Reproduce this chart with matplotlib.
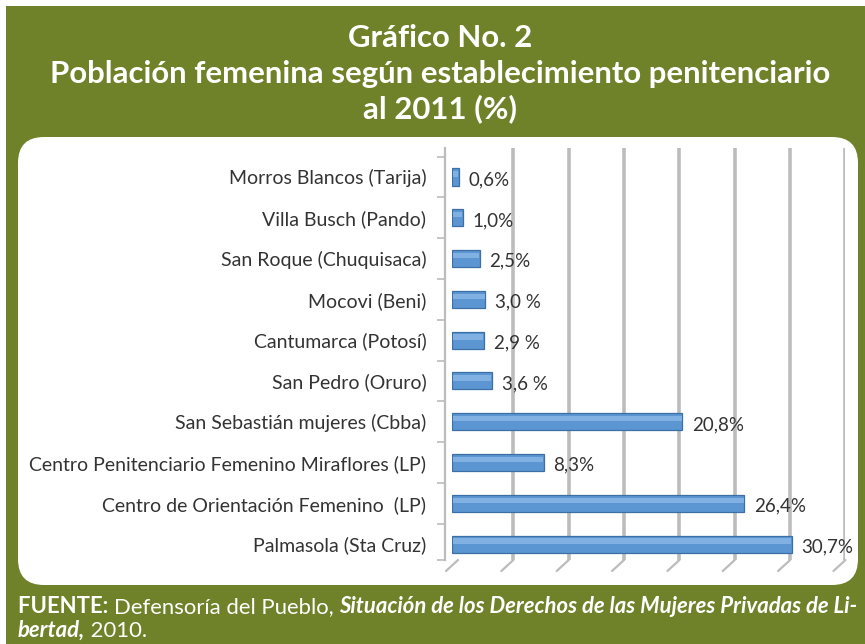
import matplotlib.pyplot as plt
import matplotlib.transforms as mtransforms
from matplotlib.patches import FancyBboxPatch, Rectangle

establecimientos = [
    "Morros Blancos (Tarija)",
    "Villa Busch (Pando)",
    "San Roque (Chuquisaca)",
    "Mocovi (Beni)",
    "Cantumarca (Potosí)",
    "San Pedro (Oruro)",
    "San Sebastián mujeres (Cbba)",
    "Centro Penitenciario Femenino Miraflores (LP)",
    "Centro de Orientación Femenino  (LP)",
    "Palmasola (Sta Cruz)",
]
porcentaje = [0.6, 1.0, 2.5, 3.0, 2.9, 3.6, 20.8, 8.3, 26.4, 30.7]
etiquetas = ["0,6%", "1,0%", "2,5%", "3,0 %", "2,9 %", "3,6 %",
             "20,8%", "8,3%", "26,4%", "30,7%"]
grid_ticks = [0, 5, 10, 15, 20, 25, 30, 35]

verde = "#6f8229"
W, H = 865, 644
fig = plt.figure(figsize=(W / 100, H / 100), dpi=100)
fig.patch.set_facecolor("white")

# green frame and white rounded panel
fig.patches.append(Rectangle((6 / W, 0), 1, 1 - 6 / H, transform=fig.transFigure,
                             facecolor=verde, edgecolor="none", zorder=0))
fig.patches.append(FancyBboxPatch((18 / W, 1 - 585 / H), 840 / W, 448 / H,
                                  boxstyle="round,pad=0,rounding_size=0.03",
                                  transform=fig.transFigure, facecolor="white",
                                  edgecolor="none", zorder=1,
                                  mutation_aspect=W / H))

tfont = dict(family="Lato", weight="bold", color="white", ha="center", va="center")
fig.text(440 / W, 1 - 38 / H, "Gráfico No. 2", fontsize=22.4, **tfont)
fig.text(440 / W, 1 - 74 / H, "Población femenina según establecimiento penitenciario",
         fontsize=22.4, **tfont)
fig.text(440 / W, 1 - 109 / H, "al 2011 (%)", fontsize=22.4, **tfont)

ax = fig.add_axes([452 / W, 1 - 560 / H, 393 / W, 412 / H])
ax.set_zorder(5)
ax.set_facecolor("none")
ax.set_xlim(0, 35.5)
ax.set_ylim(9.39, -0.71)
ypos = list(range(len(porcentaje)))

# back wall gridlines, shifted to mimic depth
shift = mtransforms.ScaledTranslation(6 / 100, 0, fig.dpi_scale_trans)
for t in grid_ticks[1:]:
    ax.plot([t, t], [9.39, -0.71], color="#bcbcbc", lw=2.6,
            transform=ax.transData + shift, solid_capstyle="butt", zorder=1)
# floor diagonals
p0 = mtransforms.ScaledTranslation(6 / 100, 0, fig.dpi_scale_trans)
p1 = mtransforms.ScaledTranslation(-6 / 100, -11 / 100, fig.dpi_scale_trans)
for t in grid_ticks:
    ax.annotate("", xy=(t, 9.39), xytext=(t, 9.39), xycoords=ax.transData + p1,
                textcoords=ax.transData + p0,
                arrowprops=dict(arrowstyle="-", color="#bcbcbc", lw=1.6,
                                shrinkA=0, shrinkB=0), annotation_clip=False)

# bars: base, darker lower edge, light top highlight
ax.barh(ypos, porcentaje, height=0.42, color="#5b96d2", edgecolor="#3b6fa6",
        linewidth=0.9, zorder=3)
hl = mtransforms.ScaledTranslation(0, 3 / 100, fig.dpi_scale_trans)
ax.barh(ypos, [v - 0.12 for v in porcentaje], left=0.06, height=0.13,
        color="#80b1e2", edgecolor="none", zorder=4, transform=ax.transData + hl)
for y, v, lab in zip(ypos, porcentaje, etiquetas):
    ax.annotate(lab, (v, y), xytext=(7, -2), textcoords="offset points",
                ha="left", va="center", fontsize=13.5, family="Lato",
                color="#333333", zorder=5)

ax.set_yticks(ypos, labels=establecimientos)
ax.set_yticks([i - 0.5 for i in ypos] + [9.39], minor=True)
ax.tick_params(axis="y", which="major", length=0, pad=13.5, labelsize=14,
               labelcolor="#333333", labelfontfamily="Lato")
ax.tick_params(axis="y", which="minor", length=6, color="#bcbcbc", width=1.2)
ax.set_xticks([])
for s in ["top", "right", "bottom"]:
    ax.spines[s].set_visible(False)
ax.spines["left"].set_color("#bcbcbc")
ax.spines["left"].set_linewidth(1.6)
ax.spines["left"].set_position(("outward", 5))

# footer with mixed styles
renderer = fig.canvas.get_renderer()
def footer(parts, x, y):
    for txt, kw in parts:
        t = fig.text(x / W, 1 - y / H, txt, color="white", fontsize=15.9,
                     family="Lato", va="baseline", **kw)
        x += t.get_window_extent(renderer).width

footer([("FUENTE: ", dict(weight="bold")),
        ("Defensoría del Pueblo, ", dict(weight="normal")),
        ("Situación de los Derechos de las Mujeres Privadas de Li-",
         dict(weight="bold", style="italic"))], 18, 613)
footer([("bertad,", dict(weight="bold", style="italic")),
        (" 2010.", dict(weight="normal"))], 18, 637)

fig.savefig("out.png", dpi=100, facecolor=fig.get_facecolor())
